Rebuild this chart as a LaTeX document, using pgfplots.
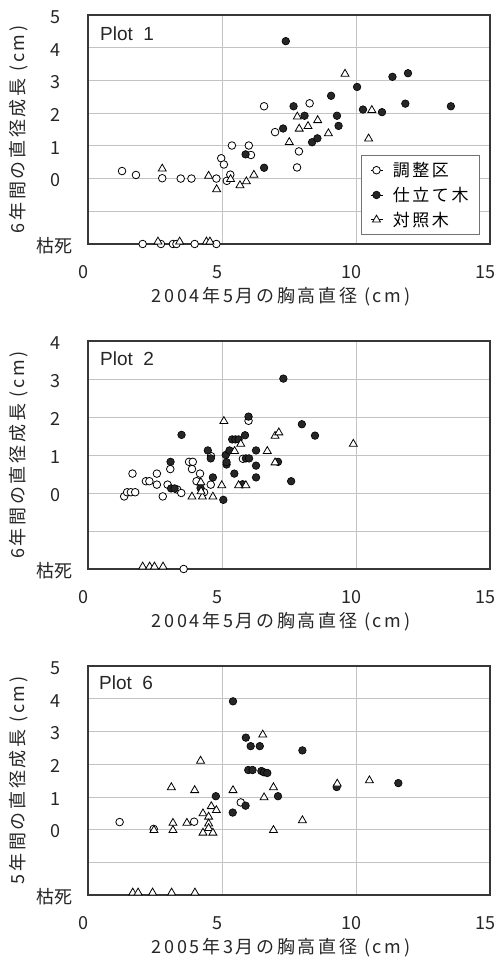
\documentclass[border=0pt]{standalone}
\usepackage{fontspec}
\setmainfont{Noto Sans CJK JP}
\newfontfamily\arial{Liberation Sans}
\newfontfamily\jplab[LetterSpace=15]{Noto Sans CJK JP}
\usepackage{pgfplots}
\pgfplotsset{compat=1.18}
\definecolor{gridgray}{RGB}{195,195,195}
\definecolor{framegray}{RGB}{55,55,55}
\pgfplotsset{
  base/.style={
    scale only axis, width=402pt,
    xmin=0, xmax=15, ymin=-2,
    xtick={0,5,10,15},
    major tick length=0pt,
    grid=major,
    major grid style={gridgray, line width=0.7pt},
    axis line style={framegray, line width=1.1pt},
    /pgf/number format/assume math mode=true,
    tick label style={font=\fontsize{18}{20}\selectfont, text=black!85},
    xticklabel style={anchor=center, yshift=-28pt, xshift=-5pt},
    yticklabel style={anchor=center, xshift=-33pt, yshift=-2pt},
    xlabel style={at={(axis description cs:0.48,-0.232)}, anchor=center, font=\jplab\fontsize{18}{20}\selectfont, text=black!85},
    ylabel style={at={(axis description cs:-0.172,0.5)}, anchor=center, font=\jplab\fontsize{18}{20}\selectfont, text=black!85},
    clip=false,
    legend image code/.code={\path (-6pt,0pt) -- (6pt,0pt); \draw[##1] plot coordinates {(0pt,0pt)};},
  },
  ctrl/.style={only marks, mark=*, mark size=3.8pt, mark options={draw=black, fill=white, line width=0.8pt}},
  thin/.style={only marks, mark=*, mark size=3.8pt, mark options={draw=black, fill=black!85, line width=0.6pt}},
  cont/.style={only marks, mark=triangle*, mark size=4.6pt, mark options={draw=black, fill=white, line width=0.8pt}},
}
\begin{document}
\begin{tikzpicture}
\useasboundingbox (0pt,0pt) rectangle (494pt,960pt);
% ---------------- Plot 1 ----------------
\begin{axis}[base, at={(88pt,716pt)}, anchor=south west, height=229pt,
  ymax=5, ytick={-2,-1,0,1,2,3,4,5}, yticklabels={枯死,,0,1,2,3,4,5},
  xlabel={2004年5月の胸高直径 (cm)}, ylabel={6年間の直径成長 (cm)},
  legend style={at={(0.975,0.039)}, anchor=south east, draw=black!55, line width=0.8pt,
    font=\jplab\fontsize{17}{20}\selectfont, row sep=5pt, inner xsep=9pt, inner ysep=5pt,
    cells={anchor=west}, /tikz/every odd column/.append style={column sep=8pt}},
  legend cell align=left]
\addplot[ctrl] coordinates {
(1.27,0.23) (1.79,0.11) (2.77,0.01) (3.46,0) (3.86,0) (4.79,0) (4.97,0.62) (5.07,0.43)
(5.31,0.12) (5.18,-0.07) (5.37,1.01) (6.0,1.01) (6.08,0.72) (6.57,2.21) (6.98,1.42)
(8.27,2.3) (7.87,0.83) (7.8,0.34)
(2.04,-2) (2.72,-2) (3.17,-2) (3.3,-2) (3.98,-2) (4.79,-2)};
\addlegendentry{調整区}
\addplot[thin] coordinates {
(5.88,0.74) (6.57,0.33) (7.28,1.53) (7.38,4.2) (7.67,2.21) (8.08,1.92) (8.36,1.11)
(8.56,1.23) (9.07,2.53) (9.29,1.92) (9.35,1.61) (10.04,2.8) (10.26,2.11) (10.97,2.03)
(11.36,3.11) (11.94,3.22) (11.84,2.29) (13.54,2.21)};
\addlegendentry{仕立て木}
\addplot[cont] coordinates {
(2.77,0.3) (4.5,0.08) (4.8,-0.33) (5.32,-0.02) (5.67,-0.21) (5.91,-0.09) (6.19,0.11)
(7.51,1.11) (7.81,1.89) (7.88,1.52) (8.21,1.6) (8.57,1.78) (8.97,1.38) (9.59,3.2)
(10.59,2.09) (10.47,1.22)
(2.61,-1.93) (3.42,-1.93) (4.42,-1.93) (4.55,-1.93)};
\addlegendentry{対照木}
\node[anchor=west, inner sep=0pt, xshift=12pt, yshift=-19pt, font=\arial\fontsize{19}{22}\selectfont, text=black!85] at (rel axis cs:0,1) {Plot~~1};
\end{axis}
% ---------------- Plot 2 ----------------
\begin{axis}[base, at={(88pt,391pt)}, anchor=south west, height=228pt,
  ymax=4, ytick={-2,-1,0,1,2,3,4}, yticklabels={枯死,,0,1,2,3,4},
  xlabel={2004年5月の胸高直径 (cm)}, ylabel={6年間の直径成長 (cm)}]
\addplot[ctrl] coordinates {
(1.35,-0.09) (1.46,0.02) (1.6,0.02) (1.76,0.02) (1.66,0.51) (2.16,0.31) (2.29,0.31)
(2.57,0.51) (2.57,0.22) (2.79,-0.09) (2.97,0.22) (3.07,0.63) (3.33,0.09) (3.48,0.0)
(3.77,0.82) (3.91,0.82) (3.88,0.63) (4.18,0.51) (4.05,0.31) (4.33,0.02) (4.59,0.97)
(4.58,0.22) (5.99,1.9) (5.78,0.9)
(3.57,-2)};
\addplot[thin] coordinates {
(3.49,1.53) (3.08,0.82) (3.1,0.12) (3.23,0.12) (4.2,0.13) (4.47,1.12) (4.58,0.91)
(4.66,0.41) (5.05,-0.18) (5.14,1.0) (5.17,0.75) (5.17,0.81) (5.28,1.12) (5.38,1.41)
(5.5,1.41) (5.62,1.41) (5.46,0.51) (5.86,1.52) (5.99,2.01) (5.77,0.23) (5.89,0.91)
(6.01,0.91) (6.27,1.12) (6.27,0.72) (6.27,0.41) (7.09,0.82) (7.29,3.01) (7.98,1.81)
(8.47,1.51) (7.58,0.31)};
\addplot[cont] coordinates {
(3.88,-0.1) (4.27,-0.1) (4.66,-0.1) (4.21,0.28) (4.22,0.04) (4.99,0.2) (5.07,1.89)
(5.47,1.1) (5.7,1.29) (5.62,0.2) (5.89,0.2) (6.69,1.1) (6.98,1.5) (7.12,1.59)
(6.98,0.8) (9.9,1.29)
(2.04,-1.94) (2.3,-1.94) (2.48,-1.94) (2.8,-1.94)};
\node[anchor=west, inner sep=0pt, xshift=12pt, yshift=-18pt, font=\arial\fontsize{19}{22}\selectfont, text=black!85] at (rel axis cs:0,1) {Plot~~2};
\end{axis}
% ---------------- Plot 6 ----------------
\begin{axis}[base, at={(88pt,65pt)}, anchor=south west, height=229pt,
  ymax=5, ytick={-2,-1,0,1,2,3,4,5}, yticklabels={枯死,,0,1,2,3,4,5},
  xlabel={2005年3月の胸高直径 (cm)}, ylabel={5年間の直径成長 (cm)}]
\addplot[ctrl] coordinates {
(1.18,0.23) (2.45,0.02) (3.96,0.24) (5.7,0.83)};
\addplot[thin] coordinates {
(4.77,1.02) (5.4,0.52) (5.41,3.92) (5.88,0.73) (5.89,2.81) (6.07,2.55) (6.41,2.55)
(5.98,1.82) (6.14,1.82) (6.47,1.79) (6.57,1.75) (6.69,1.73) (7.09,1.02) (8.0,2.42)
(9.28,1.3) (11.58,1.42)};
\addplot[cont] coordinates {
(2.46,-0.02) (3.11,1.29) (3.17,0.2) (3.17,-0.02) (3.69,0.2) (3.98,1.2) (4.2,2.1)
(4.29,0.49) (4.5,0.39) (4.5,0.18) (4.5,0.04) (4.29,-0.1) (4.66,-0.1) (4.6,0.71)
(4.79,0.59) (5.41,1.2) (6.52,2.9) (6.57,0.98) (6.92,1.29) (6.92,-0.02) (8.0,0.28)
(9.3,1.4) (10.5,1.5)
(1.67,-1.93) (1.87,-1.93) (2.41,-1.93) (3.12,-1.93) (3.99,-1.93)};
\node[anchor=west, inner sep=0pt, xshift=11pt, yshift=-17pt, font=\arial\fontsize{19}{22}\selectfont, text=black!85] at (rel axis cs:0,1) {Plot~~6};
\end{axis}
\end{tikzpicture}
\end{document}
